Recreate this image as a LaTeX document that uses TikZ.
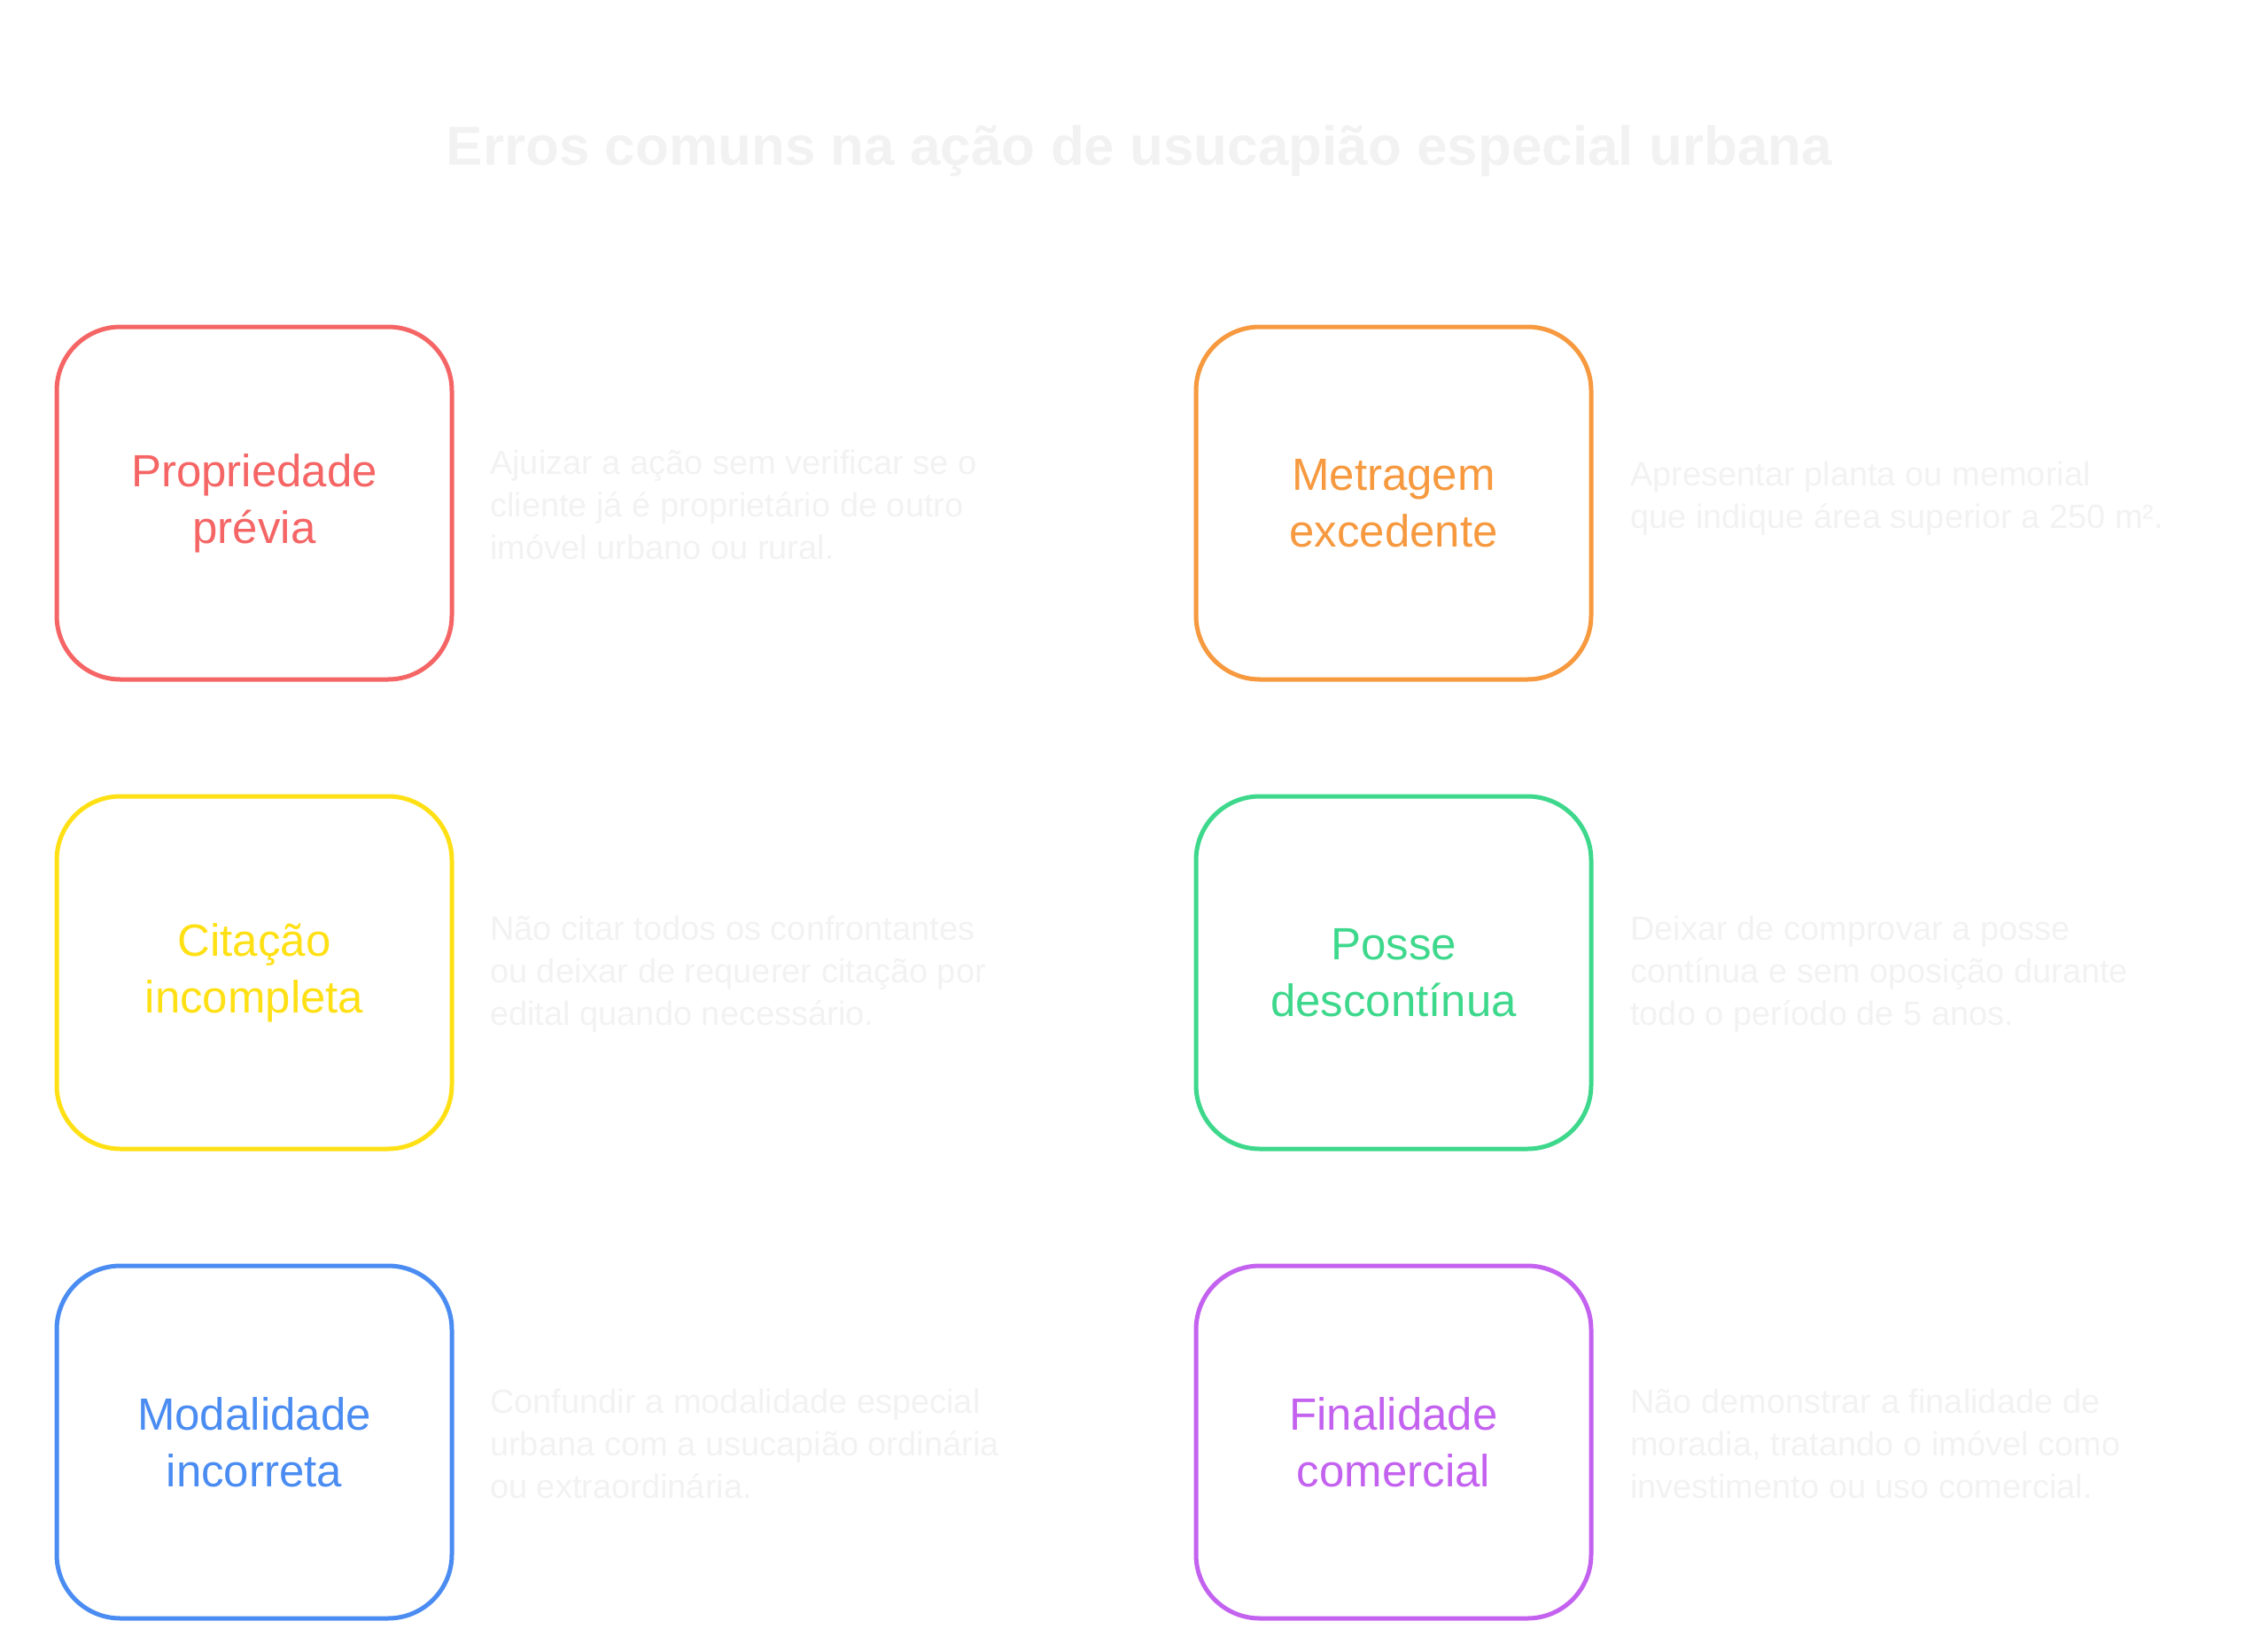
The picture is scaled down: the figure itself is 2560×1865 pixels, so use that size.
\documentclass[tikz,border=0pt]{standalone}
\usepackage{fontspec}
\setmainfont{Liberation Sans}
\definecolor{cred}{HTML}{F56565}
\definecolor{corange}{HTML}{F6993F}
\definecolor{cyellow}{HTML}{FFE014}
\definecolor{cgreen}{HTML}{3ED88C}
\definecolor{cblue}{HTML}{4A8CF2}
\definecolor{cpurple}{HTML}{C462F0}
\definecolor{faint}{HTML}{F2F2F2}
\begin{document}
\begin{tikzpicture}[x=1pt,y=-1pt,
  box/.style={draw=#1,line width=5pt,rounded corners=72pt,minimum width=446pt,minimum height=398pt,
    text=#1,align=center,font=\fontsize{51}{64}\selectfont},
  desc/.style={anchor=west,text=faint,align=left,font=\fontsize{38}{48}\selectfont,inner sep=0pt}]
\useasboundingbox (0,0) rectangle (2560,1865);
\node[text=faint,font=\bfseries\fontsize{62}{70}\selectfont] (title) at (1286,170) {Erros comuns na ação de usucapião especial urbana};
\node[box=cred] (b1) at (287,568) {Propriedade\\prévia};
\node[box=corange] (b2) at (1573,568) {Metragem\\excedente};
\node[box=cyellow] (b3) at (287,1098) {Citação\\incompleta};
\node[box=cgreen] (b4) at (1573,1098) {Posse\\descontínua};
\node[box=cblue] (b5) at (287,1628) {Modalidade\\incorreta};
\node[box=cpurple] (b6) at (1573,1628) {Finalidade\\comercial};
\node[desc] (d1) at (553,570) {Ajuizar a ação sem verificar se o\\cliente já é proprietário de outro\\imóvel urbano ou rural.};
\node[desc] (d2) at (1840,563) {Apresentar planta ou memorial\\que indique área superior a 250 m².};
\node[desc] (d3) at (553,1100) {Não citar todos os confrontantes\\ou deixar de requerer citação por\\edital quando necessário.};
\node[desc] (d4) at (1840,1100) {Deixar de comprovar a posse\\contínua e sem oposição durante\\todo o período de 5 anos.};
\node[desc] (d5) at (553,1630) {Confundir a modalidade especial\\urbana com a usucapião ordinária\\ou extraordinária.};
\node[desc] (d6) at (1840,1630) {Não demonstrar a finalidade de\\moradia, tratando o imóvel como\\investimento ou uso comercial.};
\end{tikzpicture}
\end{document}
